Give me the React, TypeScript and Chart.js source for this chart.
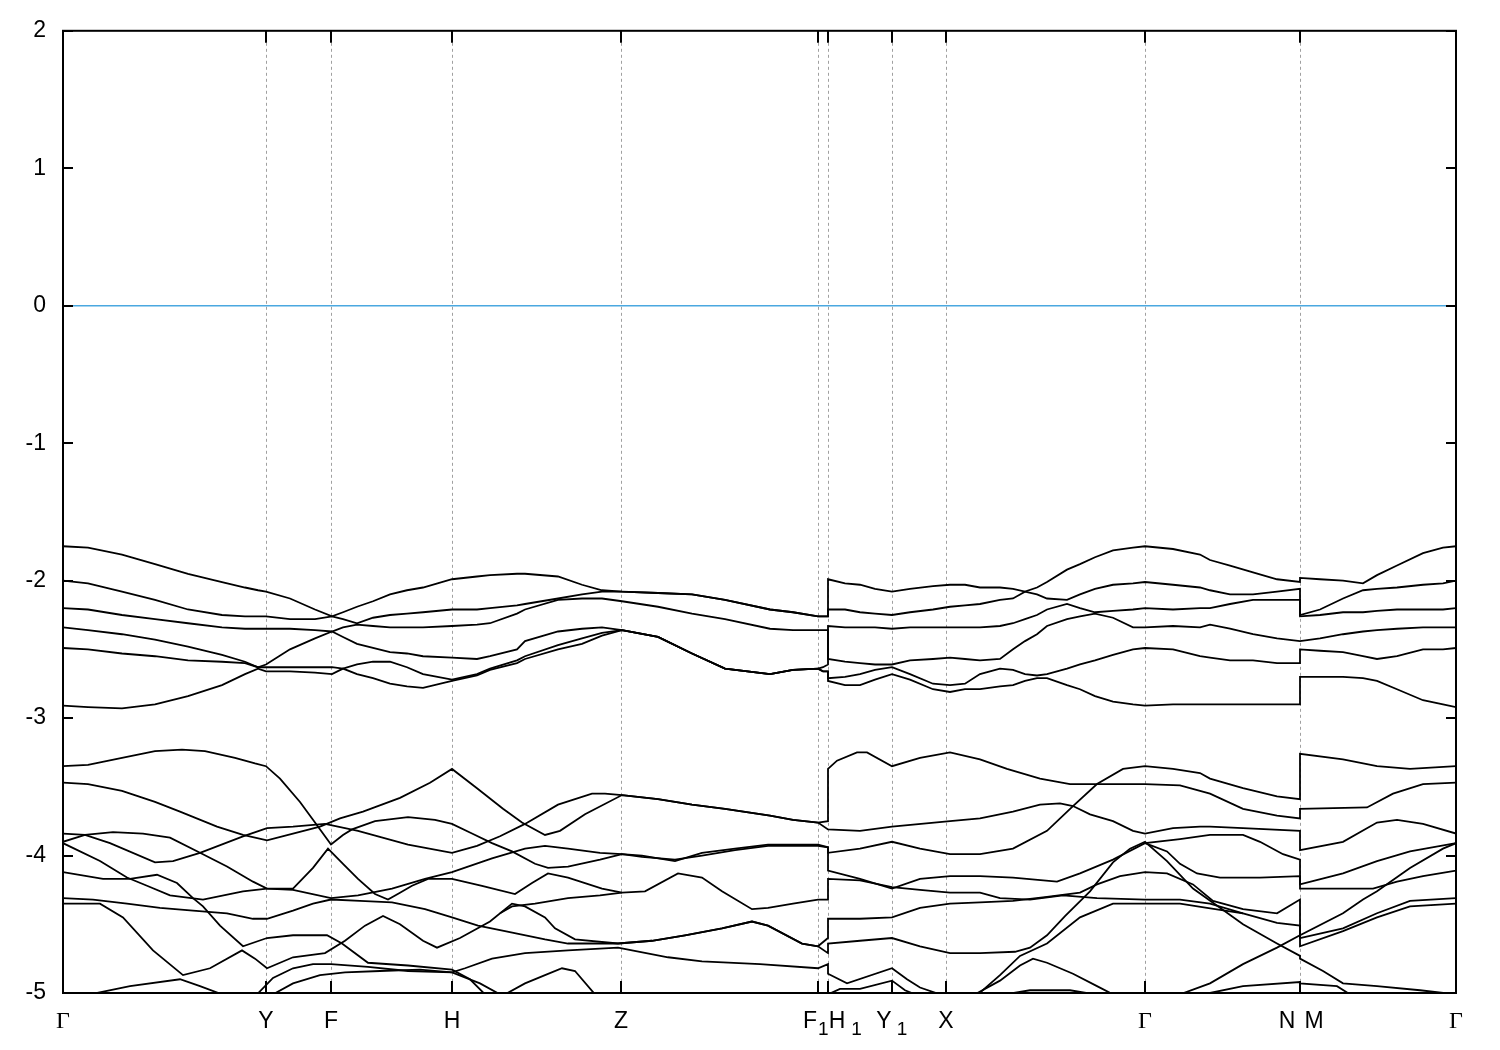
import React, { useEffect, useRef } from "react";
import { Chart, registerables } from "chart.js";

Chart.register(...registerables);

// ---- k-path (path distance units) ----
const K_MAX = 1393;
const symmetryK = [0, 203, 268, 389, 558, 755, 765, 829, 883, 1082, 1237, 1393];
const energyTicks = [-5, -4, -3, -2, -1, 0, 1, 2];
const fermiLevel = 0;

// x-axis labels
const labelAt = [0, 203, 268, 389, 558, 755, 765, 829, 883, 1082, 1237, 1237, 1393];
const labelText = ["Γ", "Y", "F", "H", "Z", "F", "H", "Y", "X", "Γ", "N", "M", "Γ"];
const labelSub = ["", "", "", "", "", "1", "1", "1", "", "", "", "", ""];

// ---- upper valence bands on a shared k grid ----
const kGrid = [0, 25, 59, 92, 125, 159, 182, 195, 203, 227, 252, 269, 280, 294, 310, 327, 344, 360, 389, 414, 427, 454, 462, 495, 519, 539, 559, 595, 629, 662, 707, 730, 755, 760, 765, 765, 782, 797, 812, 829, 847, 870, 887, 902, 917, 937, 950, 962, 974, 984, 1004, 1017, 1032, 1050, 1070, 1082, 1110, 1137, 1147, 1167, 1190, 1214, 1237, 1237, 1257, 1280, 1300, 1314, 1334, 1360, 1380, 1393];

const band1 = [-1.75, -1.76, -1.81, -1.88, -1.95, -2.01, -2.05, -2.07, -2.08, -2.13, -2.21, -2.26, -2.23, -2.19, -2.15, -2.10, -2.07, -2.05, -1.99, -1.97, -1.96, -1.95, -1.95, -1.97, -2.03, -2.07, -2.08, -2.09, -2.10, -2.14, -2.21, -2.23, -2.26, -2.26, -2.26, -1.99, -2.02, -2.03, -2.06, -2.08, -2.06, -2.04, -2.03, -2.03, -2.05, -2.05, -2.06, -2.08, -2.05, -2.01, -1.92, -1.88, -1.83, -1.78, -1.76, -1.75, -1.77, -1.81, -1.85, -1.89, -1.94, -1.99, -2.01, -1.98, -1.99, -2.00, -2.02, -1.96, -1.89, -1.80, -1.76, -1.75];
const band2 = [-2.00, -2.02, -2.08, -2.14, -2.21, -2.25, -2.26, -2.26, -2.26, -2.28, -2.28, -2.26, -2.28, -2.31, -2.27, -2.25, -2.24, -2.23, -2.21, -2.21, -2.20, -2.18, -2.17, -2.13, -2.10, -2.08, -2.08, -2.09, -2.10, -2.14, -2.21, -2.23, -2.26, -2.26, -2.26, -2.21, -2.21, -2.23, -2.24, -2.25, -2.23, -2.21, -2.19, -2.18, -2.17, -2.14, -2.13, -2.08, -2.10, -2.13, -2.14, -2.10, -2.06, -2.03, -2.02, -2.01, -2.03, -2.05, -2.07, -2.10, -2.10, -2.08, -2.06, -2.25, -2.21, -2.13, -2.07, -2.06, -2.05, -2.03, -2.02, -2.00];
const band3 = [-2.20, -2.21, -2.25, -2.28, -2.31, -2.34, -2.35, -2.35, -2.35, -2.35, -2.36, -2.37, -2.34, -2.32, -2.33, -2.34, -2.34, -2.34, -2.33, -2.32, -2.31, -2.24, -2.21, -2.14, -2.13, -2.13, -2.15, -2.19, -2.24, -2.28, -2.35, -2.36, -2.36, -2.36, -2.36, -2.57, -2.59, -2.60, -2.61, -2.61, -2.58, -2.57, -2.56, -2.57, -2.58, -2.57, -2.50, -2.44, -2.39, -2.33, -2.28, -2.26, -2.24, -2.27, -2.34, -2.34, -2.33, -2.34, -2.32, -2.35, -2.39, -2.42, -2.44, -2.44, -2.42, -2.39, -2.37, -2.36, -2.35, -2.34, -2.34, -2.34];
const band4 = [-2.34, -2.36, -2.39, -2.43, -2.48, -2.54, -2.59, -2.63, -2.61, -2.50, -2.42, -2.37, -2.41, -2.46, -2.49, -2.52, -2.53, -2.55, -2.56, -2.57, -2.55, -2.50, -2.44, -2.37, -2.35, -2.34, -2.36, -2.41, -2.53, -2.64, -2.68, -2.65, -2.64, -2.63, -2.61, -2.33, -2.34, -2.34, -2.34, -2.35, -2.34, -2.34, -2.34, -2.34, -2.34, -2.33, -2.31, -2.28, -2.25, -2.21, -2.17, -2.20, -2.23, -2.22, -2.21, -2.20, -2.21, -2.20, -2.20, -2.17, -2.14, -2.14, -2.14, -2.26, -2.25, -2.23, -2.23, -2.22, -2.21, -2.21, -2.21, -2.20];
const band5 = [-2.49, -2.50, -2.53, -2.55, -2.58, -2.59, -2.60, -2.63, -2.63, -2.63, -2.63, -2.63, -2.64, -2.61, -2.59, -2.59, -2.63, -2.68, -2.72, -2.68, -2.64, -2.58, -2.55, -2.47, -2.42, -2.38, -2.36, -2.41, -2.53, -2.64, -2.68, -2.65, -2.64, -2.66, -2.66, -2.71, -2.70, -2.68, -2.65, -2.63, -2.68, -2.75, -2.76, -2.75, -2.68, -2.64, -2.65, -2.68, -2.69, -2.68, -2.64, -2.61, -2.58, -2.54, -2.50, -2.49, -2.50, -2.55, -2.56, -2.58, -2.58, -2.60, -2.60, -2.50, -2.51, -2.52, -2.55, -2.57, -2.55, -2.50, -2.50, -2.49];
const band6 = [-2.91, -2.92, -2.93, -2.90, -2.84, -2.76, -2.68, -2.64, -2.66, -2.66, -2.67, -2.68, -2.64, -2.68, -2.71, -2.75, -2.77, -2.78, -2.73, -2.69, -2.65, -2.60, -2.57, -2.50, -2.46, -2.40, -2.36, -2.41, -2.53, -2.64, -2.68, -2.65, -2.64, -2.66, -2.66, -2.73, -2.76, -2.76, -2.72, -2.68, -2.72, -2.79, -2.81, -2.79, -2.79, -2.77, -2.76, -2.73, -2.71, -2.71, -2.76, -2.79, -2.84, -2.88, -2.90, -2.91, -2.90, -2.90, -2.90, -2.90, -2.90, -2.90, -2.90, -2.70, -2.70, -2.70, -2.71, -2.73, -2.79, -2.87, -2.90, -2.92];

// ---- lower valence bands as [k, E] pairs ----
const lower1 = [[0, -3.35], [25, -3.34], [59, -3.29], [92, -3.24], [119, -3.23], [142, -3.24], [172, -3.29], [192, -3.33], [203, -3.35], [217, -3.44], [237, -3.61], [250, -3.74], [260, -3.84], [268, -3.92], [280, -3.85], [289, -3.81], [312, -3.75], [345, -3.72], [372, -3.74], [389, -3.77], [409, -3.84], [429, -3.91], [449, -3.97], [472, -4.06], [485, -4.09], [505, -4.08], [537, -4.03], [559, -3.99], [579, -4.00], [612, -4.04], [639, -3.98], [672, -3.95], [705, -3.92], [755, -3.92], [765, -3.94], [765, -3.98], [797, -3.95], [829, -3.90], [857, -3.95], [887, -3.99], [917, -3.99], [950, -3.95], [984, -3.82], [1010, -3.64], [1034, -3.48], [1060, -3.37], [1082, -3.35], [1110, -3.37], [1137, -3.40], [1147, -3.44], [1180, -3.51], [1214, -3.57], [1237, -3.59], [1237, -3.26], [1280, -3.30], [1314, -3.35], [1347, -3.37], [1393, -3.35]];
const lower2 = [[0, -3.47], [25, -3.48], [59, -3.53], [92, -3.61], [117, -3.68], [154, -3.79], [180, -3.85], [204, -3.89], [230, -3.84], [257, -3.79], [277, -3.73], [300, -3.68], [337, -3.58], [367, -3.47], [389, -3.37], [414, -3.51], [440, -3.66], [459, -3.76], [482, -3.85], [497, -3.82], [522, -3.70], [559, -3.56], [595, -3.59], [629, -3.63], [662, -3.66], [707, -3.71], [730, -3.74], [755, -3.76], [765, -3.75], [765, -3.37], [774, -3.31], [794, -3.25], [804, -3.25], [829, -3.35], [857, -3.29], [887, -3.25], [917, -3.30], [944, -3.37], [977, -3.44], [1007, -3.48], [1050, -3.48], [1082, -3.48], [1117, -3.49], [1147, -3.55], [1180, -3.66], [1214, -3.71], [1237, -3.73], [1237, -3.66], [1304, -3.65], [1330, -3.55], [1360, -3.48], [1393, -3.47]];
const lower3 = [[0, -3.84], [22, -3.85], [47, -3.91], [92, -4.05], [110, -4.04], [137, -3.98], [180, -3.86], [204, -3.80], [230, -3.79], [262, -3.77], [295, -3.82], [345, -3.92], [389, -3.98], [414, -3.93], [437, -3.86], [462, -3.77], [495, -3.63], [529, -3.55], [542, -3.55], [559, -3.56], [595, -3.59], [629, -3.63], [662, -3.66], [707, -3.71], [730, -3.74], [755, -3.76], [765, -3.81], [797, -3.82], [829, -3.79], [887, -3.75], [917, -3.73], [950, -3.68], [977, -3.63], [997, -3.62], [1010, -3.64], [1027, -3.70], [1050, -3.75], [1070, -3.82], [1082, -3.84], [1110, -3.80], [1137, -3.79], [1147, -3.79], [1180, -3.80], [1237, -3.82], [1237, -3.96], [1280, -3.90], [1314, -3.76], [1334, -3.74], [1360, -3.77], [1393, -3.84]];
const lower4 = [[0, -3.90], [22, -3.85], [50, -3.83], [80, -3.84], [107, -3.87], [137, -3.98], [164, -4.08], [190, -4.19], [204, -4.24], [230, -4.25], [268, -4.31], [295, -4.29], [329, -4.24], [362, -4.17], [389, -4.12], [429, -4.02], [462, -3.95], [482, -3.93], [505, -3.95], [537, -3.98], [559, -3.99], [579, -4.01], [612, -4.03], [639, -4.00], [672, -3.96], [705, -3.93], [755, -3.93], [765, -3.94], [765, -4.11], [797, -4.17], [829, -4.24], [857, -4.17], [887, -4.15], [917, -4.15], [950, -4.16], [994, -4.19], [1017, -4.13], [1050, -4.03], [1082, -3.91], [1117, -3.88], [1147, -3.85], [1180, -3.85], [1197, -3.90], [1220, -3.99], [1237, -4.03], [1237, -4.21], [1280, -4.13], [1314, -4.04], [1347, -3.97], [1393, -3.91]];
const lower5 = [[0, -3.91], [37, -4.04], [64, -4.16], [84, -4.22], [107, -4.29], [140, -4.32], [180, -4.26], [204, -4.24], [230, -4.24], [250, -4.09], [265, -3.95], [280, -4.06], [295, -4.17], [312, -4.28], [325, -4.32], [337, -4.27], [349, -4.22], [365, -4.17], [389, -4.17], [419, -4.22], [452, -4.28], [469, -4.20], [485, -4.13], [505, -4.16], [539, -4.24], [559, -4.27], [582, -4.26], [615, -4.13], [639, -4.16], [659, -4.26], [689, -4.39], [705, -4.38], [730, -4.35], [755, -4.32], [765, -4.32], [765, -4.17], [797, -4.18], [829, -4.23], [857, -4.25], [887, -4.27], [917, -4.27], [937, -4.31], [967, -4.32], [1000, -4.29], [1034, -4.31], [1082, -4.32], [1117, -4.32], [1147, -4.35], [1180, -4.42], [1214, -4.49], [1237, -4.51], [1237, -4.60], [1280, -4.53], [1314, -4.42], [1347, -4.33], [1393, -4.31]];
const lower6 = [[0, -4.31], [30, -4.32], [64, -4.35], [97, -4.38], [130, -4.40], [164, -4.42], [190, -4.46], [204, -4.46], [230, -4.40], [250, -4.35], [268, -4.32], [297, -4.33], [329, -4.34], [362, -4.39], [389, -4.45], [415, -4.51], [442, -4.55], [482, -4.61], [505, -4.64], [555, -4.64], [589, -4.62], [622, -4.58], [659, -4.53], [689, -4.48], [705, -4.51], [739, -4.64], [755, -4.66], [765, -4.60], [765, -4.46], [797, -4.46], [829, -4.45], [857, -4.38], [887, -4.35], [917, -4.34], [950, -4.33], [984, -4.30], [1017, -4.27], [1034, -4.21], [1057, -4.15], [1082, -4.12], [1104, -4.13], [1130, -4.21], [1150, -4.33], [1180, -4.39], [1214, -4.42], [1237, -4.32], [1237, -4.58], [1280, -4.42], [1300, -4.32], [1314, -4.26], [1347, -4.09], [1380, -3.95], [1393, -3.91]];
const lower7 = [[0, -4.12], [40, -4.17], [67, -4.17], [94, -4.14], [114, -4.20], [130, -4.31], [140, -4.37], [157, -4.51], [180, -4.66], [204, -4.60], [230, -4.58], [264, -4.58], [279, -4.64], [305, -4.78], [345, -4.80], [389, -4.83], [407, -4.90], [422, -5.01]];
const lower8 = [[0, -4.35], [37, -4.35], [60, -4.45], [90, -4.69], [120, -4.87], [147, -4.82], [179, -4.69], [192, -4.75], [204, -4.82], [230, -4.74], [262, -4.71], [282, -4.62], [302, -4.51], [320, -4.44], [337, -4.50], [360, -4.62], [374, -4.67], [397, -4.60], [427, -4.48], [449, -4.35], [462, -4.37], [482, -4.45], [492, -4.53], [512, -4.61], [555, -4.64], [589, -4.62], [622, -4.58], [659, -4.53], [689, -4.48], [705, -4.51], [739, -4.64], [755, -4.66], [765, -4.71], [765, -4.64], [797, -4.62], [829, -4.60], [857, -4.66], [887, -4.71], [917, -4.71], [952, -4.70], [967, -4.67], [984, -4.58], [1002, -4.44], [1027, -4.26], [1050, -4.05], [1067, -3.95], [1082, -3.90], [1104, -4.04], [1130, -4.24], [1157, -4.38], [1180, -4.50], [1214, -4.64], [1237, -4.73], [1237, -4.75], [1260, -4.84], [1280, -4.93], [1314, -4.95], [1357, -4.98], [1393, -5.01]];
const lower9 = [[194, -5.01], [210, -4.89], [230, -4.82], [250, -4.79], [268, -4.79], [305, -4.81], [345, -4.84], [389, -4.85], [402, -4.82], [429, -4.75], [462, -4.71], [505, -4.69], [555, -4.67], [605, -4.74], [639, -4.77], [697, -4.79], [755, -4.82], [765, -4.79], [765, -4.86], [784, -4.93], [829, -4.82], [844, -4.90], [857, -4.96], [877, -5.01]];
const lower10 = [[210, -5.01], [230, -4.93], [257, -4.87], [282, -4.85], [317, -4.84], [357, -4.83], [389, -4.85], [417, -4.93], [437, -5.01]];
const lower11 = [[27, -5.01], [67, -4.95], [117, -4.90], [137, -4.95], [159, -5.01]];
const lower12 = [[442, -5.01], [462, -4.93], [482, -4.87], [499, -4.82], [512, -4.84], [532, -5.01]];
const lower13 = [[437, -4.42], [449, -4.37], [472, -4.35], [505, -4.31], [537, -4.29], [559, -4.27]];
const lower14 = [[765, -5.01], [777, -4.97], [797, -4.97], [829, -4.91], [842, -4.98], [852, -5.01]];
const lower15 = [[915, -5.01], [937, -4.87], [957, -4.73], [984, -4.64], [1017, -4.45], [1050, -4.35], [1082, -4.35], [1117, -4.35], [1144, -4.38], [1180, -4.42]];
const lower16 = [[1082, -3.91], [1104, -3.97], [1117, -4.06], [1134, -4.13], [1157, -4.16], [1197, -4.16], [1237, -4.15], [1237, -4.24], [1280, -4.24], [1310, -4.24], [1334, -4.19], [1360, -4.15], [1393, -4.11]];
const lower17 = [[1117, -5.01], [1147, -4.93], [1180, -4.79], [1214, -4.67], [1237, -4.58], [1237, -4.66], [1280, -4.55], [1314, -4.45], [1347, -4.37], [1393, -4.35]];
const lower18 = [[1132, -5.01], [1147, -5.00], [1180, -4.95], [1237, -4.92], [1237, -4.93], [1274, -4.95], [1287, -5.01]];
const lower19 = [[942, -5.01], [967, -4.98], [1007, -4.98], [1032, -5.01]];
const lower20 = [[912, -5.01], [937, -4.91], [957, -4.80], [970, -4.75], [984, -4.78], [1010, -4.86], [1034, -4.95], [1050, -5.01]];

const upperBands = [band1, band2, band3, band4, band5, band6];
const lowerBands = [lower1, lower2, lower3, lower4, lower5, lower6, lower7, lower8, lower9, lower10, lower11, lower12, lower13, lower14, lower15, lower16, lower17, lower18, lower19, lower20];

const decorPlugin = {
  id: "bandDecor",
  beforeDatasetsDraw(chart: any) {
    const { ctx, chartArea: a, scales } = chart;
    const xs = scales.x;
    ctx.save();
    ctx.strokeStyle = "#a0a0a0";
    ctx.lineWidth = 1;
    ctx.setLineDash([3, 3]);
    for (const k of symmetryK) {
      if (k <= 0 || k >= K_MAX) continue;
      const px = Math.round(xs.getPixelForValue(k)) + 0.5;
      ctx.beginPath();
      ctx.moveTo(px, a.top);
      ctx.lineTo(px, a.bottom);
      ctx.stroke();
    }
    ctx.restore();
  },
  afterDatasetsDraw(chart: any) {
    const { ctx, chartArea: a, scales } = chart;
    const xs = scales.x;
    const ys = scales.y;
    ctx.save();
    ctx.setLineDash([]);
    ctx.strokeStyle = "#000";
    ctx.lineWidth = 2;
    const seg = (x1: number, y1: number, x2: number, y2: number) => {
      ctx.beginPath();
      ctx.moveTo(x1, y1);
      ctx.lineTo(x2, y2);
      ctx.stroke();
    };
    for (const v of energyTicks) {
      const py = Math.round(ys.getPixelForValue(v));
      seg(a.left, py, a.left + 10, py);
      seg(a.right - 10, py, a.right, py);
    }
    for (const k of symmetryK) {
      const px = Math.round(xs.getPixelForValue(k));
      seg(px, a.bottom, px, a.bottom - 12);
      seg(px, a.top, px, a.top + 12);
    }
    ctx.strokeRect(a.left, a.top, a.right - a.left, a.bottom - a.top);

    // x labels
    ctx.fillStyle = "#000";
    ctx.textBaseline = "alphabetic";
    const shift = [0, 0, 0, 0, 0, -8, 9, -8, 0, 0, -13, 14, 0];
    const subGap = [0, 0, 0, 0, 0, 1, 6, 5, 0, 0, 0, 0, 0];
    labelAt.forEach((k, i) => {
      const t = labelText[i];
      const cx = xs.getPixelForValue(k) + shift[i];
      ctx.font = t === "Γ" ? '24px "Liberation Serif"' : '23px "Liberation Sans"';
      const w = ctx.measureText(t).width;
      ctx.textAlign = "center";
      ctx.fillText(t, cx, a.bottom + 35);
      if (labelSub[i]) {
        ctx.font = '19px "Liberation Sans"';
        ctx.textAlign = "left";
        ctx.fillText(labelSub[i], cx + w / 2 + subGap[i], a.bottom + 42);
      }
    });
    ctx.restore();
  },
};

export default function App() {
  const canvasRef = useRef<HTMLCanvasElement | null>(null);

  useEffect(() => {
    if (!canvasRef.current) return;
    const datasets: any[] = [];
    datasets.push({
      data: [
        { x: 0, y: fermiLevel },
        { x: K_MAX, y: fermiLevel },
      ],
      borderColor: "#4aa8e0",
      borderWidth: 1.6,
      pointRadius: 0,
      tension: 0,
      clip: 0,
    });
    upperBands.forEach((vals) => {
      datasets.push({
        data: vals.map((y, i) => ({ x: kGrid[i], y })),
        borderColor: "#000",
        borderWidth: 1.8,
        pointRadius: 0,
        tension: 0,
        clip: 0,
      });
    });
    lowerBands.forEach((pairs) => {
      datasets.push({
        data: pairs.map(([x, y]) => ({ x, y })),
        borderColor: "#000",
        borderWidth: 1.8,
        pointRadius: 0,
        tension: 0,
        clip: 0,
      });
    });

    const chart = new Chart(canvasRef.current, {
      type: "line",
      data: { datasets },
      options: {
        responsive: false,
        animation: false,
        devicePixelRatio: 1,
        events: [],
        layout: { padding: { left: 0, top: 28, right: 44, bottom: 57 } },
        plugins: { legend: { display: false }, tooltip: { enabled: false } },
        scales: {
          x: { type: "linear", min: 0, max: K_MAX, display: false },
          y: {
            type: "linear",
            min: -5,
            max: 2,
            grid: { display: false, drawTicks: false },
            border: { display: false },
            ticks: {
              stepSize: 1,
              autoSkip: false,
              padding: 17,
              color: "#000",
              font: { family: "Liberation Sans", size: 23 },
              callback: (v: any) => String(v),
            },
            afterFit: (s: any) => {
              s.width = 63;
            },
          },
        },
      },
      plugins: [decorPlugin],
    });
    return () => chart.destroy();
  }, []);

  return (
    <div style={{ position: "absolute", left: 0, top: 0, width: 1500, height: 1050, background: "#fff" }}>
      <canvas ref={canvasRef} width={1500} height={1050} style={{ display: "block" }} />
    </div>
  );
}
